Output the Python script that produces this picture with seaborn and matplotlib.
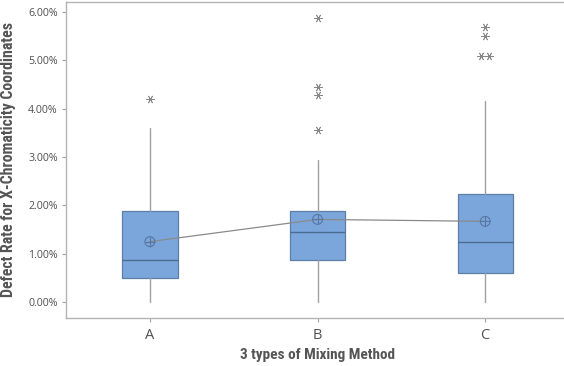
import logging
import numpy as np
import pandas as pd
import matplotlib
matplotlib.use("Agg")
import matplotlib.pyplot as plt
import seaborn as sns

# Box summary per mixing method (defect rate, %)
methods = ["A", "B", "C"]
whisker_low = [0.00, 0.00, 0.00]
q1 = [0.50, 0.88, 0.61]
median = [0.87, 1.44, 1.24]
q3 = [1.88, 1.88, 2.23]
whisker_high = [3.60, 2.93, 4.15]
mean = [1.25, 1.71, 1.67]

# Outlying observations
outlier_method = ["A", "B", "B", "B", "B", "C", "C", "C", "C"]
outlier_value = [4.21, 5.88, 4.44, 4.29, 3.56, 5.69, 5.51, 5.08, 5.08]

y_ticks = [0, 1, 2, 3, 4, 5, 6]

sns.set_theme(style="white")
plt.rcParams["font.family"] = ["DejaVu Sans"]
logging.getLogger("matplotlib.font_manager").setLevel(logging.ERROR)

tick_family = ["Segoe UI", "Selawik", "Open Sans", "DejaVu Sans"]
label_family = ["Liberation Sans Narrow", "Arial Narrow", "Roboto Condensed",
                "PT Sans Narrow", "Archivo Narrow", "Liberation Sans"]

fig = plt.figure(figsize=(5.64, 3.66), dpi=100)
ax = fig.add_axes([0.117, 0.131, 0.892, 0.864])

box_fill = "#7ba6dc"
box_edge = "#5d7ea6"
median_col = "#4a6b90"
whisker_col = "#a0a0a0"
grey_text = "#505050"
mean_col = "#5877a0"

stats = []
for i, m in enumerate(methods):
    stats.append(dict(label=m, whislo=whisker_low[i], q1=q1[i], med=median[i],
                      q3=q3[i], whishi=whisker_high[i], fliers=[]))

pos = np.arange(len(methods))
ax.bxp(stats, positions=pos, widths=0.33, patch_artist=True, showcaps=False,
       showfliers=False,
       boxprops=dict(facecolor=box_fill, edgecolor=box_edge, linewidth=0.9),
       medianprops=dict(color=median_col, linewidth=1.0),
       whiskerprops=dict(color=whisker_col, linewidth=1.0))

# Mean connect line with circled-plus symbols
mean_df = pd.DataFrame({"pos": pos, "mean": mean})
sns.lineplot(data=mean_df, x="pos", y="mean", color="#8a8a8a", linewidth=0.9,
             ax=ax, zorder=4)
sns.scatterplot(data=mean_df, x="pos", y="mean", marker="o", s=50,
                facecolor="none", edgecolor=mean_col, linewidth=0.8,
                ax=ax, zorder=5)
sns.scatterplot(data=mean_df, x="pos", y="mean", marker="+", s=50,
                color=mean_col, linewidth=0.8, ax=ax, zorder=5)

# Outliers: tied values are spread sideways
out_df = pd.DataFrame({"method": outlier_method, "value": outlier_value})
out_df["pos"] = out_df["method"].map({m: i for i, m in enumerate(methods)}).astype(float)
for (_, _), grp in out_df.groupby(["method", "value"]):
    k = len(grp)
    if k > 1:
        offs = (np.arange(k) - (k - 1) / 2) * 0.05
        out_df.loc[grp.index, "pos"] += offs
sns.scatterplot(data=out_df, x="pos", y="value", marker=(6, 2, 90), s=30,
                color="#888888", linewidth=0.6, ax=ax, zorder=5)

ax.set_xlim(-0.5, 2.5)
ax.set_ylim(-0.33, 6.21)
ax.set_xticks(pos)
ax.set_xticklabels(methods, fontsize=10.5, color=grey_text, family=tick_family)
ax.set_yticks(y_ticks)
ax.set_yticklabels([f"{v:.2f}%" for v in y_ticks], fontsize=7.7, color=grey_text,
                   family=tick_family)

ax.tick_params(axis="both", which="major", length=3, width=0.8, color="#a0a0a0",
               left=True, bottom=True, pad=3)
ax.tick_params(axis="x", pad=4)

for side in ["left", "bottom", "top"]:
    ax.spines[side].set_color("#b4b4b4")
    ax.spines[side].set_linewidth(1.0)
ax.spines["right"].set_visible(False)

label_font = dict(family=label_family, fontsize=11, fontweight="bold", color="#555555")
ax.set_xlabel("3 types of Mixing Method", labelpad=4, **label_font)
ax.set_ylabel("Defect Rate for X-Chromaticity Coordinates", labelpad=9,
              **{**label_font, "fontsize": 11.4})

fig.savefig("out.png", dpi=100)
